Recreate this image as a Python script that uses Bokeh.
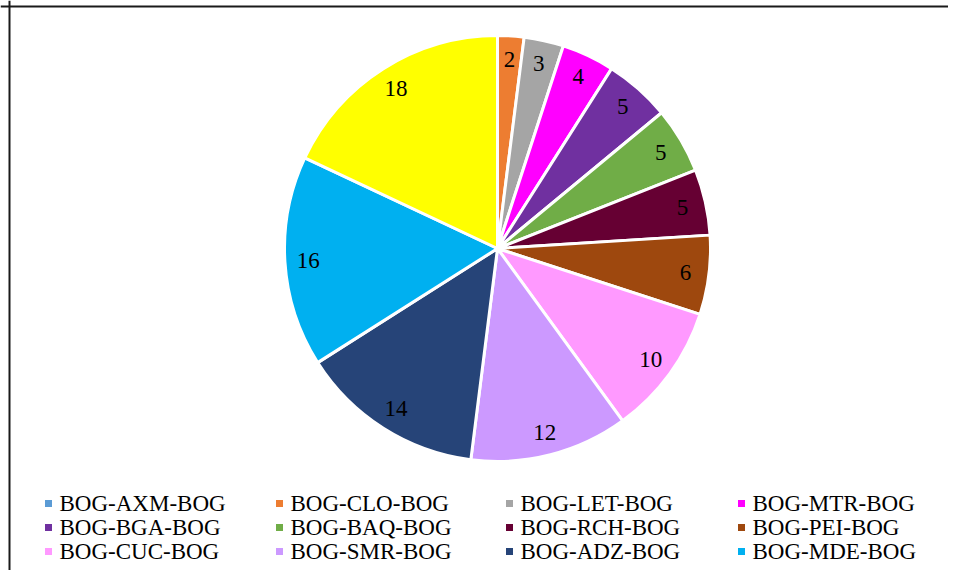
import numpy as np
from bokeh.plotting import figure
from bokeh.models import Range1d, Span, ColumnDataSource
from bokeh.core.properties import value
from bokeh.embed import file_html
from bokeh.resources import INLINE

# ---- data ----
routes = ["BOG-AXM-BOG", "BOG-CLO-BOG", "BOG-LET-BOG", "BOG-MTR-BOG",
          "BOG-BGA-BOG", "BOG-BAQ-BOG", "BOG-RCH-BOG", "BOG-PEI-BOG",
          "BOG-CUC-BOG", "BOG-SMR-BOG", "BOG-ADZ-BOG", "BOG-MDE-BOG",
          "BOG-OTR-BOG"]
shares = [0, 2, 3, 4, 5, 5, 5, 6, 10, 12, 14, 16, 18]
colors = ["#5B9BD5", "#ED7D31", "#A5A5A5", "#FF00FF",
          "#7030A0", "#70AD47", "#660033", "#9E480E",
          "#FF99FF", "#CC99FF", "#264478", "#00B0F0",
          "#FFFF00"]
legend_count = 12  # rows beyond the third are cut off in the original

# ---- layout constants (screen px) ----
W, H = 948, 570
def sy(y):
    return H - y

cx, cy, R = 497, sy(248), 213
label_r = 0.89 * R
FONT = "Liberation Serif"

p = figure(width=W, height=H, output_backend="svg", toolbar_location=None,
           x_range=Range1d(0, W), y_range=Range1d(0, H),
           min_border=0, outline_line_color=None)
p.axis.visible = False
p.grid.visible = False
p.background_fill_color = "white"
p.border_fill_color = "white"

vals = np.array(shares, dtype=float)
total = vals.sum()
cum_end = np.cumsum(vals)
cum_start = cum_end - vals
start_ang = np.pi / 2 - 2 * np.pi * cum_start / total
end_ang = np.pi / 2 - 2 * np.pi * cum_end / total
mid_ang = (start_ang + end_ang) / 2

src = ColumnDataSource(dict(start=start_ang, end=end_ang, color=colors,
                            x=[cx] * len(vals), y=[cy] * len(vals)))
p.wedge(x="x", y="y", radius=R, radius_units="screen", start_angle="start",
        end_angle="end", direction="clock", fill_color="color",
        line_color="white", line_width=3, source=src)

# slice labels
mask = vals > 0
lab = ColumnDataSource(dict(
    x=(cx + label_r * np.cos(mid_ang))[mask],
    y=(cy + label_r * np.sin(mid_ang))[mask],
    t=[str(int(v)) for v in vals[mask]]))
p.text(x="x", y="y", text="t", source=lab, text_align="center",
       text_baseline="middle", text_font=value(FONT),
       text_font_size="23px", text_color="black")

# legend (manual grid 4 columns)
col_x = [48, 279, 509, 741]
row_y = [503, 527, 551]
lx, ly, lt, lc = [], [], [], []
for i in range(legend_count):
    r, c = divmod(i, 4)
    lx.append(col_x[c]); ly.append(sy(row_y[r]))
    lt.append(routes[i]); lc.append(colors[i])
leg = ColumnDataSource(dict(x=lx, y=ly, tx=[v + 11 for v in lx], t=lt, c=lc))
p.scatter(x="x", y="y", marker="square", size=7, fill_color="c",
          line_color=None, source=leg)
p.text(x="tx", y="y", text="t", source=leg, text_align="left",
       text_baseline="middle", text_font=value(FONT),
       text_font_size="23px", text_color="black")

# chart-area border (left and top edges visible)
p.add_layout(Span(location=9, dimension="height", line_color="#1a1a1a", line_width=2))
p.add_layout(Span(location=sy(6), dimension="width", line_color="#1a1a1a", line_width=2))

open("out.html", "w").write(file_html(p, INLINE))
